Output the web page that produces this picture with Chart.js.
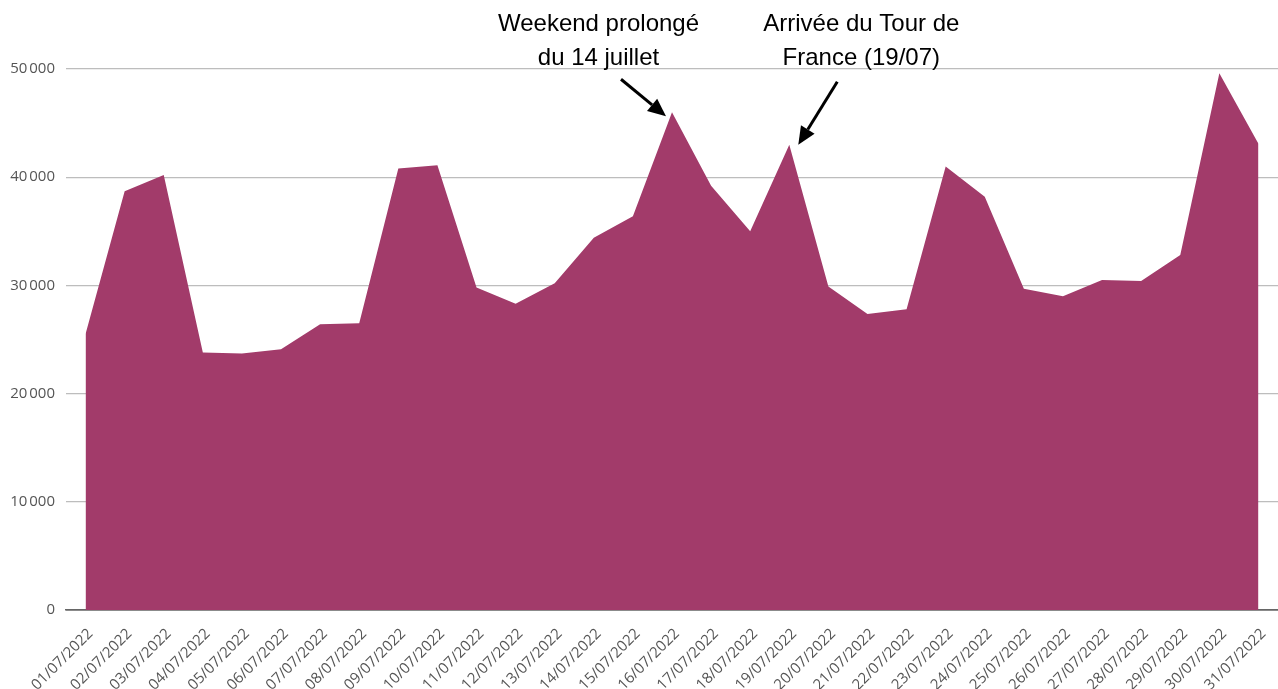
<!DOCTYPE html>
<html><head><meta charset="utf-8">
<script src="https://cdn.jsdelivr.net/npm/chart.js@4.4.1/dist/chart.umd.min.js"></script>
<style>html,body{margin:0;padding:0;background:#fff}#wrap{width:1278px;height:689px;position:relative}</style>
</head><body><div id="wrap"><canvas id="c"></canvas></div>
<script>
const categories = ["01/07/2022","02/07/2022","03/07/2022","04/07/2022","05/07/2022","06/07/2022","07/07/2022","08/07/2022","09/07/2022","10/07/2022","11/07/2022","12/07/2022","13/07/2022","14/07/2022","15/07/2022","16/07/2022","17/07/2022","18/07/2022","19/07/2022","20/07/2022","21/07/2022","22/07/2022","23/07/2022","24/07/2022","25/07/2022","26/07/2022","27/07/2022","28/07/2022","29/07/2022","30/07/2022","31/07/2022"];
const visitors = [25500,38700,40200,23800,23700,24100,26400,26500,40800,41100,29800,28300,30200,34400,36400,46000,39200,35000,43000,29900,27350,27800,41000,38200,29700,29000,30500,30400,32800,49600,43100];
const yTicks = [0,10000,20000,30000,40000,50000];
const yTickLabels = ["0","10\u202f000","20\u202f000","30\u202f000","40\u202f000","50\u202f000"];
const annotationLines = [["Weekend prolongé","du 14 juillet"],["Arrivée du Tour de","France (19/07)"]];
const annotationIndex = [15,18];

// styles for annotations (offsets relative to the annotated point)
const annStyle = [
  {textDx:-73.5, tail:[-51,-33], tip:[-6,4]},
  {textDx:72, tail:[48,-63], tip:[9,0]}
];

const annotationPlugin = {
  id:'ann',
  afterDraw(chart){
    const ctx = chart.ctx, xs = chart.scales.x, ys = chart.scales.y;
    ctx.save();
    ctx.font = '24px "Liberation Sans", Arial, sans-serif';
    ctx.fillStyle = '#000';
    ctx.strokeStyle = '#000';
    ctx.textAlign = 'center';
    ctx.textBaseline = 'middle';
    annotationIndex.forEach((idx,i)=>{
      const px = xs.getPixelForValue(idx), py = ys.getPixelForValue(visitors[idx]);
      const st = annStyle[i];
      annotationLines[i].forEach((t,j)=>{ ctx.fillText(t, px+st.textDx, 24+34*j); });
      const x0 = px+st.tail[0], y0 = py+st.tail[1], x1 = px+st.tip[0], y1 = py+st.tip[1];
      const ang = Math.atan2(y1-y0, x1-x0);
      const hl = 18, hw = 8;
      const bx = x1 - hl*Math.cos(ang), by = y1 - hl*Math.sin(ang);
      ctx.lineWidth = 3;
      ctx.beginPath(); ctx.moveTo(x0,y0); ctx.lineTo(bx,by); ctx.stroke();
      ctx.beginPath();
      ctx.moveTo(x1,y1);
      ctx.lineTo(bx + hw*Math.sin(ang), by - hw*Math.cos(ang));
      ctx.lineTo(bx - hw*Math.sin(ang), by + hw*Math.cos(ang));
      ctx.closePath(); ctx.fill();
    });
    ctx.restore();
  }
};

new Chart(document.getElementById('c'), {
  type:'line',
  data:{labels:categories, datasets:[{
    data:visitors, fill:'origin', backgroundColor:'#a23b6a', borderColor:'#a23b6a',
    borderWidth:0, pointRadius:0, tension:0
  }]},
  plugins:[annotationPlugin],
  options:{
    responsive:true, maintainAspectRatio:false, animation:false,
    layout:{padding:{top:69,left:0,right:0,bottom:0}},
    plugins:{legend:{display:false}, tooltip:{enabled:false}},
    scales:{
      x:{
        offset:true,
        afterFit(scale){ scale.paddingLeft = 0; scale.paddingRight = 0; scale.height = 79; },
        grid:{display:false, drawTicks:false},
        border:{display:true, color:'#666', width:1.5},
        ticks:{font:{family:'"Open Sans"', size:15}, color:'#555', maxRotation:45, minRotation:45, autoSkip:false, padding:15, labelOffset:5}
      },
      y:{
        min:0, max:50000,
        afterBuildTicks(scale){ scale.ticks = yTicks.map(v=>({value:v})); },
        afterFit(scale){ scale.width = 66; },
        grid:{color:(c)=>c.tick && c.tick.value===0 ? '#666' : '#bdbdbd', lineWidth:(c)=>c.tick && c.tick.value===0 ? 1.5 : 1.2, drawTicks:false},
        border:{display:false},
        ticks:{font:{family:'"Open Sans"', size:15}, color:'#555', padding:11,
          callback:(v)=>{ const k = yTicks.indexOf(v); return k>=0 ? yTickLabels[k] : ''; }}
      }
    }
  }
});
</script></body></html>
